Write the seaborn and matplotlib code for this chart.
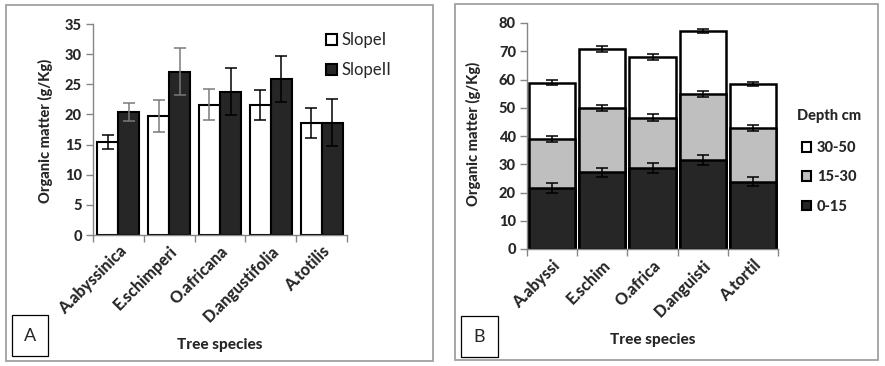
import numpy as np
import pandas as pd
import matplotlib
matplotlib.use("Agg")
import matplotlib.pyplot as plt
from matplotlib.patches import Rectangle, Patch
import seaborn as sns

# ---------------- data ----------------
species_a = ["A.abyssinica", "E.schimperi", "O.africana", "D.angustifolia", "A.totilis"]
slope_levels = ["SlopeI", "SlopeII"]
slope1 = [15.4, 19.7, 21.6, 21.6, 18.6]
slope2 = [20.4, 27.1, 23.8, 25.9, 18.6]
slope1_err = [1.15, 2.65, 2.55, 2.5, 2.5]
slope2_err = [1.55, 3.85, 3.9, 3.85, 3.9]

species_b = ["A.abyssi", "E.schim", "O.africa", "D.anguisti", "A.tortil"]
depth_levels = ["0-15", "15-30", "30-50"]
d0_15 = [21.6, 27.1, 28.7, 31.5, 23.8]
d15_30 = [17.4, 22.8, 17.8, 23.5, 19.1]
d30_50 = [19.9, 20.9, 21.5, 22.2, 15.5]
d0_15_err = [1.65, 1.6, 1.7, 1.7, 1.6]
d15_30_err = [1.15, 1.1, 1.2, 1.1, 1.0]
d30_50_err = [0.9, 0.9, 1.0, 0.8, 0.8]

# ---------------- style ----------------
sns.set_style("ticks")
plt.rcParams["font.family"] = ["Lato", "DejaVu Sans"]
DARK = "#262626"
GRAY = "#bfbfbf"
SPINE = "#868686"
BOLD = 900

fig = plt.figure(figsize=(8.85, 3.66), dpi=100)
W, H = 885.0, 366.0

def fx(px):
    return px / W

def fy(py):
    return 1 - py / H

# panel borders
fig.add_artist(Rectangle((fx(6), fy(361)), 427 / W, 356 / H, transform=fig.transFigure,
                         fill=False, edgecolor="#a0a0a0", lw=1.3))
fig.add_artist(Rectangle((fx(455), fy(360)), 423 / W, 356 / H, transform=fig.transFigure,
                         fill=False, edgecolor="#a0a0a0", lw=1.3))
# label boxes
fig.add_artist(Rectangle((fx(12), fy(356)), 36 / W, 41 / H, transform=fig.transFigure,
                         fill=False, edgecolor="black", lw=0.9))
fig.add_artist(Rectangle((fx(461), fy(357)), 37 / W, 41 / H, transform=fig.transFigure,
                         fill=False, edgecolor="black", lw=0.9))
fig.text(fx(30), fy(336), "A", ha="center", va="center", fontsize=13)
fig.text(fx(479.5), fy(337), "B", ha="center", va="center", fontsize=13)

axA = fig.add_axes([fx(93), fy(235), (347 - 93) / W, (235 - 24) / H])
axB = fig.add_axes([fx(527), fy(249), (778 - 527) / W, (249 - 23) / H])

# ---------------- panel A ----------------
dfA = pd.DataFrame({
    "species": species_a * 2,
    "slope": [slope_levels[0]] * 5 + [slope_levels[1]] * 5,
    "om": slope1 + slope2,
})
sns.barplot(data=dfA, x="species", y="om", hue="slope", order=species_a,
            hue_order=slope_levels, palette={"SlopeI": "white", "SlopeII": DARK},
            width=0.83, gap=0, edgecolor="black", linewidth=1.5, errorbar=None,
            legend=False, ax=axA)

patches = list(axA.patches)
errs = slope1_err + slope2_err
vals = slope1 + slope2
ecols = ["black", "#7a7a7a", "#7a7a7a", "black", "black",
         "#7a7a7a", "#7a7a7a", "black", "black", "black"]
for p, v, e, c in zip(patches, vals, errs, ecols):
    cx = p.get_x() + p.get_width() / 2
    axA.errorbar(cx, v, yerr=e, fmt="none", ecolor=c, elinewidth=1.1,
                 capsize=4, capthick=1.1, zorder=5)

axA.set_ylim(0, 35)
axA.set_xlim(-0.5, 4.5)
yt_a = np.arange(0, 36, 5)

# ---------------- panel B ----------------
c1 = np.array(d0_15)
c2 = c1 + np.array(d15_30)
c3 = c2 + np.array(d30_50)
dfB = pd.DataFrame({"species": species_b, "c1": c1, "c2": c2, "c3": c3})
for col, colr in [("c3", "white"), ("c2", GRAY), ("c1", DARK)]:
    sns.barplot(data=dfB, x="species", y=col, order=species_b, color=colr,
                width=0.92, edgecolor="black", linewidth=1.8, errorbar=None, ax=axB)

xs = np.arange(len(species_b))
for tops, e in [(c1, d0_15_err), (c2, d15_30_err), (c3, d30_50_err)]:
    axB.errorbar(xs, tops, yerr=e, fmt="none", ecolor="black", elinewidth=1.1,
                 capsize=4, capthick=1.1, zorder=5)

axB.set_ylim(0, 80)
axB.set_xlim(-0.5, 4.5)
yt_b = np.arange(0, 81, 10)

# ---------------- common axis styling ----------------
for ax, names, yt, ylab_x, ylab_y, xlab_y in [
        (axA, species_a, yt_a, -0.157, 0.493, -0.49),
        (axB, species_b, yt_b, -0.183, 0.509, -0.372)]:
    sns.despine(ax=ax, top=True, right=True)
    for s in ["left", "bottom"]:
        ax.spines[s].set_color(SPINE)
        ax.spines[s].set_linewidth(1.0)
    ax.set_yticks(yt)
    ax.set_yticklabels([f"{v:g}" for v in yt], fontsize=10.5, fontweight=BOLD)
    ax.tick_params(axis="y", direction="out", length=5, width=1.0, color=SPINE, pad=3)
    ax.set_xticks(np.arange(len(names)))
    ax.set_xticklabels(names, rotation=45, ha="right", rotation_mode="anchor",
                       fontsize=11.5, fontweight=BOLD)
    ax.set_xticks(np.arange(-0.5, 5.0, 1.0), minor=True)
    ax.tick_params(axis="x", which="minor", direction="out", length=5, width=1.0, color=SPINE)
    ax.tick_params(axis="x", which="major", length=0, pad=6)
    ax.set_ylabel("Organic matter (g/Kg)", fontsize=10.5, fontweight=BOLD)
    ax.set_xlabel("Tree species", fontsize=11, fontweight=BOLD)
    ax.yaxis.set_label_coords(ylab_x, ylab_y)
    ax.xaxis.set_label_coords(0.5, xlab_y)
    ax.set_facecolor("white")

# ---------------- legends ----------------
hA = [Patch(facecolor="white", edgecolor="black", lw=1.5),
      Patch(facecolor=DARK, edgecolor="black", lw=1.5)]
fig.legend(hA, slope_levels, loc="upper left", bbox_to_anchor=(fx(326), fy(32)),
           frameon=False, prop={"size": 12}, handlelength=0.66, handleheight=0.66,
           handletextpad=0.3, labelspacing=0.85, borderpad=0, borderaxespad=0)

hB = [Patch(facecolor="white", edgecolor="black", lw=1.5),
      Patch(facecolor=GRAY, edgecolor="black", lw=1.5),
      Patch(facecolor=DARK, edgecolor="black", lw=1.5)]
legB = fig.legend(hB, depth_levels[::-1], loc="upper left", bbox_to_anchor=(fx(797), fy(109)),
                  frameon=False, prop={"size": 10.5, "weight": BOLD}, title="Depth cm",
                  title_fontproperties={"weight": BOLD, "size": 10.5},
                  handlelength=0.65, handleheight=0.65, handletextpad=0.4,
                  labelspacing=1.05, borderpad=0, borderaxespad=0)
legB._legend_box.sep = 13

fig.savefig("out.png", dpi=100)
